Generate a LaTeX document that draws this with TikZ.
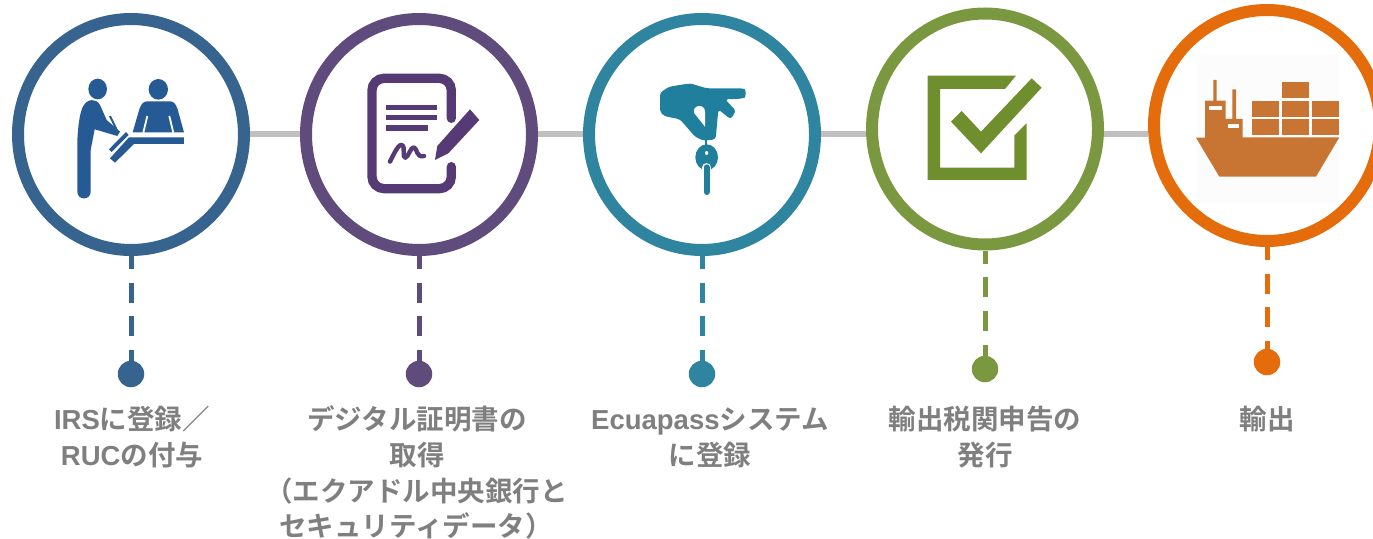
\documentclass[tikz,border=0pt]{standalone}
\usepackage{fontspec}
\setmainfont{Liberation Sans}
\newfontfamily\cjk[BoldFont={Noto Sans CJK JP Bold}]{Noto Sans CJK JP}
\usetikzlibrary{shapes.geometric}
\definecolor{cblue}{HTML}{36648F}
\definecolor{cpurple}{HTML}{5F4B7C}
\definecolor{cteal}{HTML}{2F84A0}
\definecolor{cgreen}{HTML}{7A983F}
\definecolor{corange}{HTML}{E46C0A}
\definecolor{iblue}{HTML}{255A94}
\definecolor{ipurple}{HTML}{553A75}
\definecolor{iteal}{HTML}{1F7F9D}
\definecolor{igreen}{HTML}{6F8F2E}
\definecolor{iship}{HTML}{C87533}
\definecolor{clink}{HTML}{C0C0C0}
\definecolor{ctext}{HTML}{7F7F7F}
\newcommand{\fL}[1]{{\bfseries #1}}
\newcommand{\fJ}[1]{{\cjk\bfseries #1}}
\tikzset{
  ring/.style={ellipse,draw=#1,fill=white,line width=12pt,minimum width=226pt,minimum height=231pt,inner sep=0pt},
  linkline/.style={draw=clink,line width=6.5pt},
  stem/.style={draw=#1,line width=5pt,dash pattern=on 20pt off 13.7pt,dash phase=7pt},
  dot/.style={circle,fill=#1,minimum size=26.5pt,inner sep=0pt},
  caption/.style={text=ctext,inner sep=0pt,anchor=north,align=center,font=\fontsize{27.5pt}{36.3pt}\selectfont},
  zoomed/.style={shift={#1},x=0.3333pt,y=-0.3333pt}
}
\begin{document}
\begin{tikzpicture}[x=1pt,y=-1pt]
\useasboundingbox (0,0) rectangle (1373,538);
\coordinate (axis) at (0,134);
% rings
\node[ring=cblue]   (c1) at (131,134.5) {};
\node[ring=cpurple] (c2) at (419,134.5) {};
\node[ring=cteal]   (c3) at (702,134.5) {};
\node[ring=cgreen]  (c4) at (985,129) {};
\node[ring=corange] (c5) at (1267,125.5) {};
% gray links
\draw[linkline] (c1.east|-axis) -- (c2.west|-axis);
\draw[linkline] (c2.east|-axis) -- (c3.west|-axis);
\draw[linkline] (c3.east|-axis) -- (c4.west|-axis);
\draw[linkline] (c4.east|-axis) -- (c5.west|-axis);
% dots
\node[dot=cblue]   (d1) at (131,374) {};
\node[dot=cpurple] (d2) at (419,374) {};
\node[dot=cteal]   (d3) at (702,374) {};
\node[dot=cgreen]  (d4) at (985,369) {};
\node[dot=corange] (d5) at (1267,362) {};
\draw[stem=cblue]   (c1.south) -- (d1.north);
\draw[stem=cpurple] (c2.south) -- (d2.north);
\draw[stem=cteal]   (c3.south) -- (d3.north);
\draw[stem=cgreen]  (c4.south) -- (d4.north);
\draw[stem=corange] (c5.south) -- (d5.north);
% labels
\node[caption] (t1) at (132,405) {\rule{0pt}{24pt}\fL{IRS}\fJ{に登録／}\\\fL{RUC}\fJ{の付与}};
\node[caption] (t2) at (417,405) {\rule{0pt}{24pt}\fJ{デジタル証明書の}\\\fJ{取得}};
\node[caption,anchor=north west,align=left,font=\fontsize{27.5pt}{35pt}\selectfont] (t2b) at (265,477) {\rule{0pt}{24pt}\fJ{（エクアドル中央銀行と}\\\hspace*{14pt}\fJ{セキュリティデータ）}};
\node[caption] (t3) at (710,405) {\rule{0pt}{24pt}\fL{Ecuapass}\fJ{システム}\\\fJ{に登録}};
\node[caption] (t4) at (985,405) {\rule{0pt}{24pt}\fJ{輸出税関申告の}\\\fJ{発行}};
\node[caption] (t5) at (1267,405) {\rule{0pt}{24pt}\fJ{輸出}};
% icon 1
\begin{scope}[zoomed={(60,70)}]
\fill[iblue] (113,57) ellipse [x radius=28,y radius=31];
\fill[iblue] (295,58) ellipse [x radius=29,y radius=31];
\fill[iblue] (52,210) .. controls (55,160) and (60,125) .. (70,108) .. controls (82,85) and (110,85) .. (120,105) -- (140,150) -- (180,185) -- (172,198) -- (118,182) -- (104,178) -- (92,240) -- (92,365) .. controls (92,392) and (52,392) .. (52,365) -- cycle;
\draw[iblue,line width=2pt] (150,138) -- (175,190);
\fill[iblue] (147,238) -- (198,186) -- (206,195) -- (155,246) -- cycle;
\fill[iblue] (150,265) -- (207,202) -- (372,202) -- (372,222) -- (222,222) -- (165,278) -- cycle;
\fill[iblue] (218,187) -- (238,118) .. controls (244,100) and (252,94) .. (262,94) -- (330,94) .. controls (340,94) and (347,100) .. (353,118) -- (372,187) -- cycle;
\draw[white,line width=1.8pt] (262,138) -- (250,188);
\draw[white,line width=1.8pt] (328,138) -- (340,188);
\end{scope}
% icon 2
\begin{scope}[zoomed={(350,60)}]
\draw[ipurple,line width=9.3pt,line cap=round,rounded corners=12pt] (304,175) -- (304,55) -- (66,55) -- (66,386) -- (304,386) -- (304,320);
\draw[ipurple,line width=5.3pt] (108,142) -- (262,142);
\draw[ipurple,line width=5.3pt] (108,173) -- (262,173);
\draw[ipurple,line width=5.3pt] (108,204) -- (234,204);
\draw[ipurple,line width=4.4pt,line cap=round,line join=round] (120,305) .. controls (130,285) and (145,252) .. (155,255) .. controls (168,258) and (155,295) .. (166,293) .. controls (175,292) and (182,260) .. (192,262) .. controls (202,264) and (198,295) .. (222,288);
\fill[ipurple] (360,148) -- (388,180) -- (295,280) -- (255,300) -- (262,258) -- cycle;
\end{scope}
% icon 3
\begin{scope}[zoomed={(640,70)}]
\fill[iteal,rounded corners=3pt] (60,68) -- (88,50) -- (150,40) -- (200,55) -- (305,55) .. controls (318,58) and (318,82) .. (305,86) -- (255,88) -- (288,122) -- (272,148) -- (235,118) -- (227,208) -- (190,212) -- (165,200) -- (120,148) -- (72,138) -- (60,125) -- cycle;
\fill[white] (178,108) .. controls (165,108) and (158,120) .. (163,130) -- (195,170) -- (195,125) .. controls (195,115) and (188,108) .. (178,108) -- cycle;
\draw[iteal,line width=1.5pt] (198,205) -- (198,235);
\fill[iteal] (200,262) ellipse [x radius=34,y radius=39];
\fill[white] (200,249) ellipse [x radius=5,y radius=6];
\draw[white,line width=8.5pt,line cap=round] (200,292) -- (200,310);
\draw[iteal,line width=6pt,line cap=round] (200,292) -- (200,366);
\end{scope}
% icon 4
\begin{scope}[zoomed={(915,65)}]
\fill[igreen] (38,32) -- (303,32) -- (270,72) -- (75,72) -- (75,308) -- (298,308) -- (298,212) -- (335,175) -- (335,345) -- (38,345) -- cycle;
\fill[igreen] (108,170) -- (140,138) -- (198,200) -- (350,40) -- (380,68) -- (198,265) -- cycle;
\end{scope}
% icon 5
\begin{scope}[zoomed={(1190,50)}]
\fill[black!1] (21,15) rectangle (447,459);
\fill[iship] (18,263) -- (45,263) -- (45,152) -- (70,152) -- (70,90) -- (80,90) -- (80,152) -- (107,152) -- (107,207) -- (127,207) -- (127,118) -- (138,118) -- (138,207) -- (158,207) -- (158,262) -- (448,262) -- (378,380) -- (88,380) -- cycle;
\fill[white] (57,167) rectangle (95,180);
\fill[white] (114,222) rectangle (147,235);
\fill[iship] (275,97) rectangle (357,145);
\fill[iship] (185,153) rectangle (268,200);
\fill[iship] (275,153) rectangle (357,200);
\fill[iship] (365,153) rectangle (448,200);
\fill[iship] (185,208) rectangle (268,256);
\fill[iship] (275,208) rectangle (357,256);
\fill[iship] (365,208) rectangle (448,256);
\end{scope}
\end{tikzpicture}
\end{document}
